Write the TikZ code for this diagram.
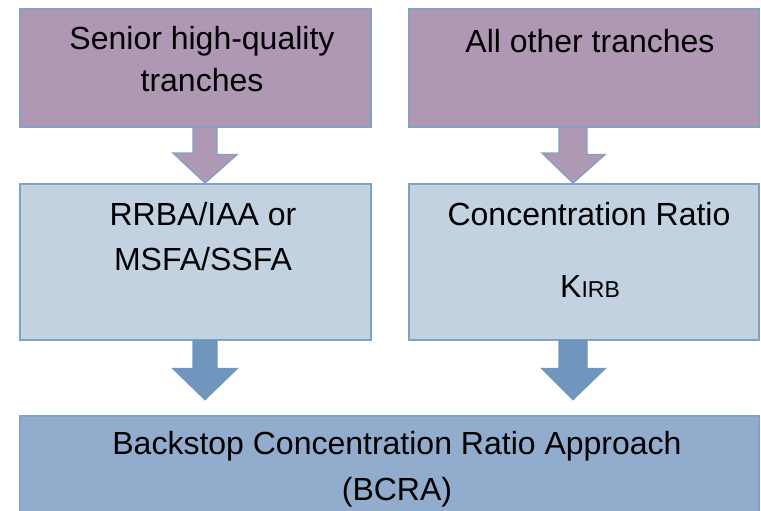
\documentclass[tikz,border=0pt]{standalone}
\usepackage{fontspec}
\setmainfont{Liberation Sans}
\usetikzlibrary{calc}
\definecolor{purplefill}{RGB}{174,152,180}
\definecolor{lightfill}{RGB}{194,210,224}
\definecolor{darkfill}{RGB}{146,172,205}
\definecolor{edgeblue}{RGB}{130,160,200}
\definecolor{arrowblue}{RGB}{112,150,190}
\begin{document}
\begin{tikzpicture}[x=1pt,y=-1pt,
  box/.style={draw=edgeblue, line width=1.6pt, rectangle, inner sep=0pt, anchor=north west},
  lbl/.style={font=\fontsize{32}{37}\selectfont, text=black, inner sep=0pt},
  purplearrow/.style={draw=edgeblue, line width=1.4pt, fill=purplefill, line join=miter},
  bluearrow/.style={draw=arrowblue, line width=1.4pt, fill=arrowblue, line join=miter}]
\useasboundingbox (0,0) rectangle (761,511);
\clip (0,0) rectangle (761,511);
% boxes
\node[box, fill=purplefill, minimum width=351pt, minimum height=118pt] (b1) at (19,8) {};
\node[box, fill=purplefill, minimum width=350pt, minimum height=118pt] (b2) at (408,8) {};
\node[box, fill=lightfill, minimum width=351pt, minimum height=156pt] (b3) at (19,183) {};
\node[box, fill=lightfill, minimum width=350pt, minimum height=156pt] (b4) at (408,183) {};
\node[box, fill=darkfill, minimum width=739pt, minimum height=110pt] (b5) at (19,415) {};
% labels
\node[lbl] (t1a) at (202,41) {Senior high-quality};
\node[lbl] (t1b) at (202,80) {tranches};
\node[lbl] (t2) at (590,41) {All other tranches};
\node[lbl] (t3a) at (203,214) {RRBA/IAA or};
\node[lbl] (t3b) at (203,259) {MSFA/SSFA};
\node[lbl] (t4a) at (589,214) {Concentration Ratio};
\node[lbl] (t4b) at (590,286) {K{\fontsize{23}{28}\selectfont IRB}};
\node[lbl] (t5a) at (397,446) {Backstop Concentration Ratio Approach};
\node[lbl] (t5b) at (397,492) {(BCRA)};
% arrows
\coordinate (a1) at (205,0);
\coordinate (a2) at (573,0);
\draw[purplearrow] (a1 |- b1.south) ++(-12,0) -- ++(24,0) -- ++(0,27) -- ++(20,0) -- ($(a1 |- b3.north)$) -- ++(-32,-30) -- ++(20,0) -- cycle;
\draw[purplearrow] (a2 |- b2.south) ++(-14,0) -- ++(28,0) -- ++(0,27) -- ++(18,0) -- ($(a2 |- b4.north)$) -- ++(-31,-30) -- ++(17,0) -- cycle;
\draw[bluearrow] (a1 |- b3.south) ++(-12,0) -- ++(24,0) -- ++(0,28) -- ++(20,0) -- ($(a1 |- b3.south)+(0,59)$) -- ++(-32,-31) -- ++(20,0) -- cycle;
\draw[bluearrow] (a2 |- b4.south) ++(-14,0) -- ++(28,0) -- ++(0,28) -- ++(18,0) -- ($(a2 |- b4.south)+(0,59)$) -- ++(-31,-31) -- ++(17,0) -- cycle;
\end{tikzpicture}
\end{document}
